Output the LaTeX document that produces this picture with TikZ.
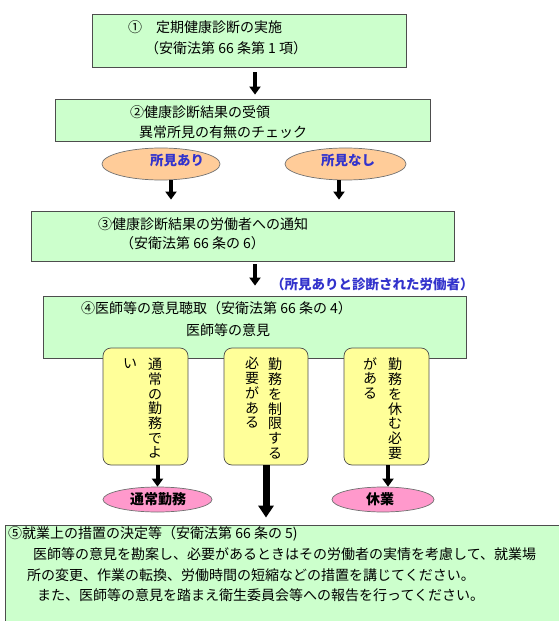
\documentclass[tikz,border=0pt]{standalone}
\usepackage{fontspec}
\setmainfont{Noto Sans CJK JP}
\usetikzlibrary{shapes.geometric,arrows.meta,calc}
\definecolor{boxgreen}{HTML}{CCFFCC}
\definecolor{edgegray}{HTML}{4D4D4D}
\definecolor{orangefill}{HTML}{FFCC99}
\definecolor{yellowfill}{HTML}{FFFF99}
\definecolor{pinkfill}{HTML}{FF99CC}
\definecolor{bluetext}{HTML}{3333CC}
\begin{document}
\begin{tikzpicture}[x=1bp,y=-1bp,
  greenbox/.style={rectangle,draw=edgegray,fill=boxgreen,line width=0.8bp,inner sep=0pt},
  yellowbox/.style={rectangle,rounded corners=8bp,draw=edgegray,fill=yellowfill,line width=0.7bp,inner sep=0pt},
  orangeell/.style={ellipse,draw=edgegray!80,fill=orangefill,line width=0.7bp,inner sep=0pt},
  pinkell/.style={ellipse,draw=edgegray!80,fill=pinkfill,line width=0.7bp,inner sep=0pt},
  txt/.style={anchor=west,inner sep=0pt,font=\fontsize{14bp}{16bp}\selectfont},
  bluelbl/.style={inner sep=0pt,text=bluetext,font=\fontsize{13.5bp}{16bp}\selectfont\bfseries},
  pinklbl/.style={inner sep=0pt,font=\fontsize{14bp}{16bp}\selectfont\bfseries},
  vcol/.style={anchor=north,inner sep=0pt,align=center,font=\fontsize{14bp}{14.7bp}\selectfont},
  arr/.style={line width=4bp,-{Triangle[width=11bp,length=8bp]}},
  bigarr/.style={line width=7bp,-{Triangle[width=15bp,length=12bp]}}
]
\clip (0,0) rectangle (559,621);
\fill[white] (0,0) rectangle (559,621);

% boxes
\node[greenbox,minimum width=314bp,minimum height=53bp] (b1) at (249,40.5) {};
\node[greenbox,minimum width=375bp,minimum height=42bp] (b2) at (242.5,120) {};
\node[greenbox,minimum width=423bp,minimum height=50bp] (b3) at (242.5,236) {};
\node[greenbox,minimum width=423bp,minimum height=62bp] (b4) at (254.5,327) {};
\node[greenbox,minimum width=560bp,minimum height=105bp] (b5) at (285,577.5) {};

% box texts
\node[txt] (t1a) at (128,27) {①　定期健康診断の実施};
\node[txt] (t1b) at (145,48) {（安衛法第 66 条第 1 項）};
\node[txt] (t2a) at (130,112) {②健康診断結果の受領};
\node[txt] (t2b) at (139,132) {異常所見の有無のチェック};
\node[txt] (t3a) at (98,224) {③健康診断結果の労働者への通知};
\node[txt] (t3b) at (120,243) {（安衛法第 66 条の 6）};
\node[txt] (t4a) at (81,308) {④医師等の意見聴取（安衛法第 66 条の 4）};
\node[txt] (t4b) at (186,330) {医師等の意見};
\node[txt] (t5a) at (8,534) {⑤就業上の措置の決定等（安衛法第 66 条の 5)};
\node[txt] (t5b) at (33,554) {医師等の意見を勘案し、必要があるときはその労働者の実情を考慮して、就業場};
\node[txt] (t5c) at (27,575) {所の変更、作業の転換、労働時間の短縮などの措置を講じてください。};
\node[txt] (t5d) at (37,595) {また、医師等の意見を踏まえ衛生委員会等への報告を行ってください。};

% orange ellipses
\node[orangeell,minimum width=118bp,minimum height=32bp] (e1) at (161,164) {};
\node[orangeell,minimum width=121bp,minimum height=32bp] (e2) at (345.5,164) {};
\node[bluelbl] (e1t) at (177,160) {所見あり};
\node[bluelbl] (e2t) at (348,160) {所見なし};

% label
\node[bluelbl,anchor=west] (lbl) at (271,284) {（所見ありと診断された労働者）};

% yellow boxes
\node[yellowbox,minimum width=85bp,minimum height=117bp] (ya) at (145.5,406.5) {};
\node[yellowbox,minimum width=84bp,minimum height=117bp] (yb) at (266,406.5) {};
\node[yellowbox,minimum width=85bp,minimum height=117bp] (yc) at (386.5,406.5) {};

\node[vcol] (ya1) at (155,358) {通\\常\\の\\勤\\務\\で\\よ};
\node[vcol] (ya2) at (130,358) {い};
\node[vcol] (yb1) at (275,358) {勤\\務\\を\\制\\限\\す\\る};
\node[vcol] (yb2) at (252,357) {必\\要\\が\\あ\\る};
\node[vcol] (yc1) at (395,358) {勤\\務\\を\\休\\む\\必\\要};
\node[vcol] (yc2) at (370,357) {が\\あ\\る};

% pink ellipses
\node[pinkell,minimum width=109bp,minimum height=25bp] (pa) at (157.5,499.5) {};
\node[pinkell,minimum width=102bp,minimum height=25bp] (pc) at (383,499.5) {};
\node[pinklbl] (pat) at (158,499.5) {通常勤務};
\node[pinklbl] (pct) at (380,499.5) {休業};

% arrows
\coordinate (a1s) at ($(b1.south)+(6,0)$);
\draw[arr,shorten <=5bp,shorten >=4bp] (a1s) -- (a1s |- b2.north);
\coordinate (a2s) at ($(e1.south)+(10,0)$);
\draw[arr,shorten >=11bp] (a2s) -- (a2s |- b3.north);
\coordinate (a3s) at ($(e2.south)+(-6.5,0)$);
\draw[arr,shorten >=11bp] (a3s) -- (a3s |- b3.north);
\coordinate (a4s) at ($(b3.south)+(12.5,0)$);
\draw[arr,shorten <=3bp,shorten >=10bp] (a4s) -- (a4s |- b4.north);
\draw[arr] (pa.north |- ya.south) -- (pa.north);
\coordinate (a6e) at ($(pc.north)+(5,0)$);
\draw[arr] (a6e |- yc.south) -- (a6e);
\draw[bigarr,shorten >=7bp] (yb.south) -- (yb.south |- b5.north);
\end{tikzpicture}
\end{document}
